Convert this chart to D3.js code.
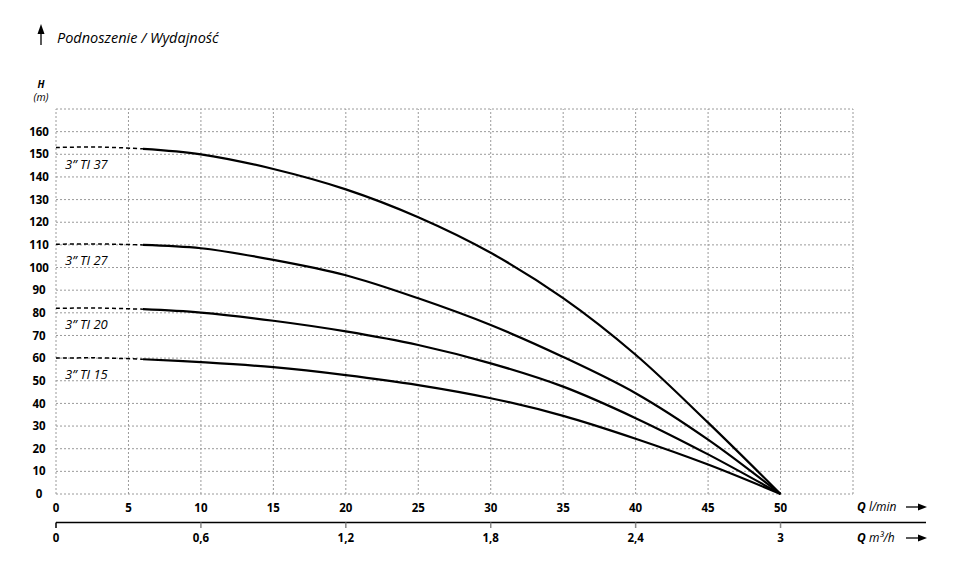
<!DOCTYPE html>
<html><head><meta charset="utf-8">
<script src="https://cdn.jsdelivr.net/npm/d3@7"></script>
<style>body{margin:0;background:#fff}svg{display:block;font-family:"Open Sans",sans-serif}</style>
</head><body><svg id="c" width="975" height="572"></svg>
<script>
const flowLmin = [0, 3, 6, 10, 15, 20, 25, 30, 35, 40, 45, 50];
const ti37 = [153, 153.2, 152.4, 150, 143.5, 134.5, 122.2, 106.5, 86.5, 61.5, 31.5, 0];
const ti27 = [110.3, 110.4, 110, 108.5, 103.4, 96.6, 86.4, 74.6, 60.5, 44.5, 24, 0];
const ti20 = [82, 82.1, 81.6, 80.1, 76.5, 71.8, 65.8, 57.7, 47.4, 33.5, 17.5, 0];
const ti15 = [60, 60.1, 59.5, 58.2, 56, 52.5, 48.1, 42.3, 34.5, 24.4, 13, 0];
const seriesNames = ["3\u201D TI 37", "3\u201D TI 27", "3\u201D TI 20", "3\u201D TI 15"];
const xTicksLmin = [0, 5, 10, 15, 20, 25, 30, 35, 40, 45, 50];
const xTicksM3h = [0, 0.6, 1.2, 1.8, 2.4, 3];
const yTicks = [0, 10, 20, 30, 40, 50, 60, 70, 80, 90, 100, 110, 120, 130, 140, 150, 160];

const svg = d3.select("#c");
const x = d3.scaleLinear().domain([0, 55]).range([56, 853]);
const y = d3.scaleLinear().domain([0, 170]).range([494, 109]);
const xm = d3.scaleLinear().domain([0, 3.3]).range([56, 853]);

// grid
const grid = svg.append("g").attr("stroke", "#9a9a9a").attr("stroke-width", 1).attr("stroke-dasharray", "2,2").attr("fill", "none");
d3.range(0, 56, 5).forEach(v => grid.append("line").attr("x1", x(v)).attr("x2", x(v)).attr("y1", y(0)).attr("y2", y(170)));
d3.range(0, 171, 10).forEach(v => grid.append("line").attr("x1", x(0)).attr("x2", x(55)).attr("y1", y(v)).attr("y2", y(v)));

// y labels
svg.append("g").selectAll("text").data(yTicks).join("text")
  .attr("x", 39).attr("y", d => y(d)).attr("dy", "0.36em").attr("text-anchor", "middle")
  .attr("font-size", 11.5).attr("font-weight", "bold").text(d => d);

// x labels l/min
svg.append("g").selectAll("text").data(xTicksLmin).join("text")
  .attr("x", d => x(d)).attr("y", 512).attr("text-anchor", "middle")
  .attr("font-size", 11.5).attr("font-weight", "bold").text(d => d);

// m3/h axis
svg.append("line").attr("x1", x(0)).attr("x2", 926).attr("y1", 522.5).attr("y2", 522.5).attr("stroke", "#000").attr("stroke-width", 1.5);
svg.append("g").selectAll("line").data(xTicksM3h).join("line")
  .attr("x1", d => xm(d)).attr("x2", d => xm(d)).attr("y1", 522.5).attr("y2", 528)
  .attr("stroke", (d, i) => i === 0 ? "#000" : "#888").attr("stroke-width", 1.5);
svg.append("g").selectAll("text").data(xTicksM3h).join("text")
  .attr("x", d => xm(d)).attr("y", 542).attr("text-anchor", "middle")
  .attr("font-size", 11.5).attr("font-weight", "bold").text(d => String(d).replace(".", ","));

// axis names
function qLabel(yy, unit) {
  const t = svg.append("text").attr("x", 857).attr("y", yy).attr("font-size", 12).attr("font-style", "italic");
  t.append("tspan").attr("font-weight", "bold").text("Q");
  t.append("tspan").text(" " + unit);
  svg.append("line").attr("x1", 906).attr("x2", 920).attr("y1", yy - 4).attr("y2", yy - 4).attr("stroke", "#000").attr("stroke-width", 1.3);
  svg.append("path").attr("d", `M918,${yy - 7.5} L927,${yy - 4} L918,${yy - 0.5} Z`).attr("fill", "#000");
}
qLabel(511, "l/min");
qLabel(542, "m\u00B3/h");

// title
svg.append("line").attr("x1", 41).attr("x2", 41).attr("y1", 31).attr("y2", 45).attr("stroke", "#000").attr("stroke-width", 1.3);
svg.append("path").attr("d", "M37.5,34 L41,24 L44.5,34 Z").attr("fill", "#000");
svg.append("text").attr("x", 57).attr("y", 43).attr("font-size", 14.5).attr("font-style", "italic").text("Podnoszenie / Wydajność");
svg.append("text").attr("x", 41).attr("y", 88).attr("text-anchor", "middle").attr("font-size", 10).attr("font-weight", "bold").attr("font-style", "italic").text("H");
svg.append("text").attr("x", 41).attr("y", 101).attr("text-anchor", "middle").attr("font-size", 10.5).attr("font-style", "italic").text("(m)");

// curves
const allSeries = [ti37, ti27, ti20, ti15];
const line = d3.line().x(d => x(d[0])).y(d => y(d[1])).curve(d3.curveCatmullRom.alpha(0.5));
allSeries.forEach((vals, si) => {
  const pts = flowLmin.map((q, i) => [q, vals[i]]);
  svg.append("path").attr("d", line(pts.slice(0, 3))).attr("fill", "none")
    .attr("stroke", "#000").attr("stroke-width", 1.5).attr("stroke-dasharray", "4,3");
  svg.append("path").attr("d", line(pts.slice(2))).attr("fill", "none")
    .attr("stroke", "#000").attr("stroke-width", 2.2);
  svg.append("text").attr("x", 65).attr("y", y(vals[0]) + 21).attr("font-size", 13)
    .attr("font-style", "italic").text(seriesNames[si]);
});
</script></body></html>
